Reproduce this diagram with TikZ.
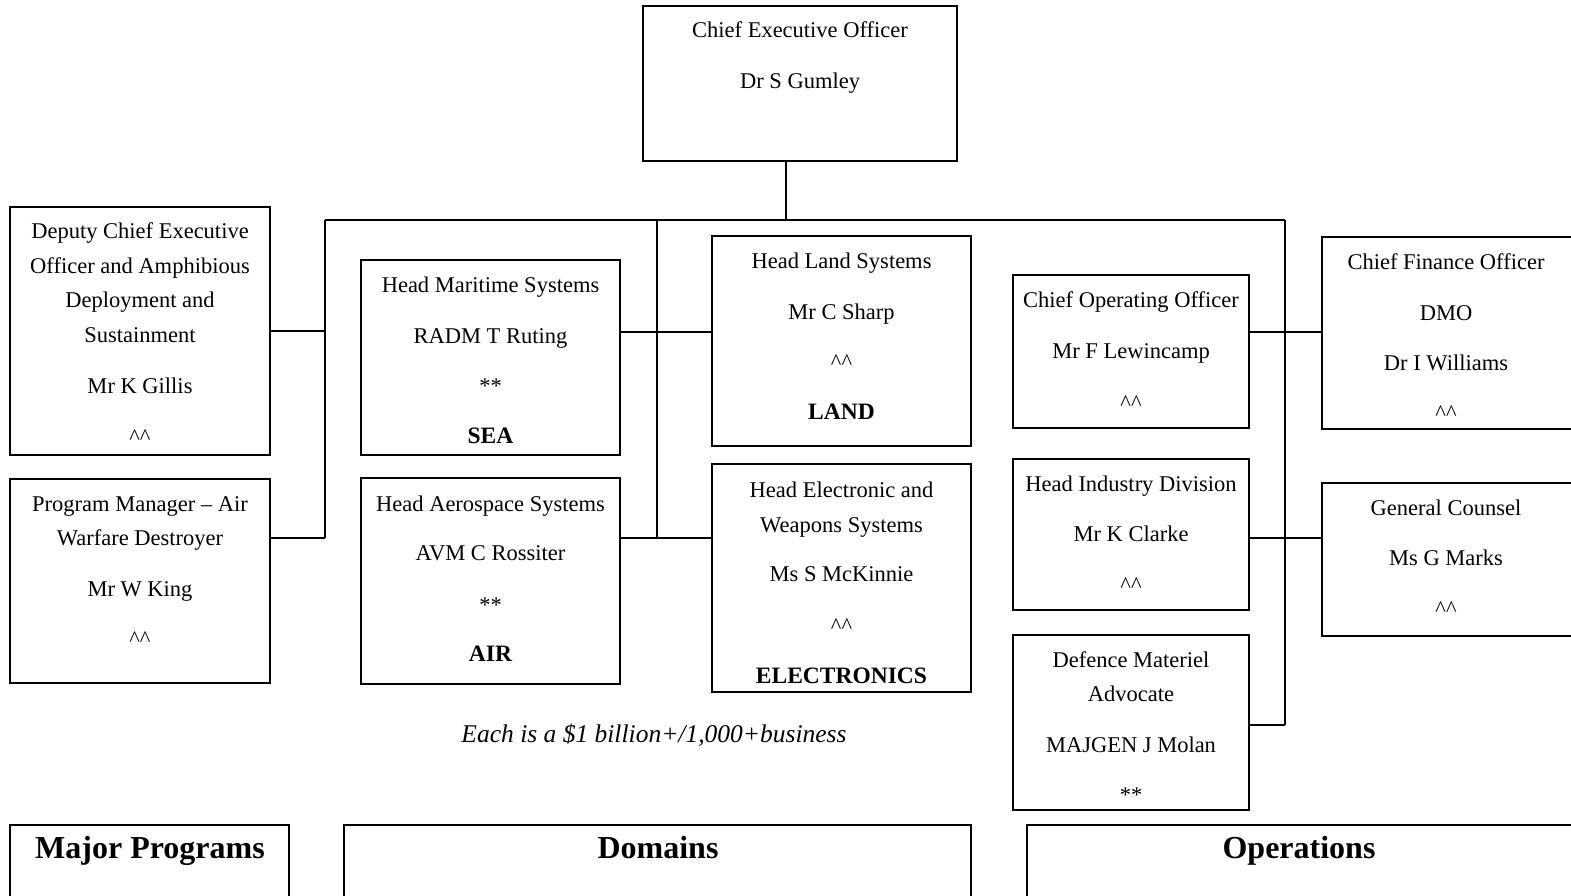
\documentclass[tikz,border=0pt]{standalone}
\usepackage{fontspec}
\setmainfont{Liberation Serif}
\newcommand{\cc}{\^{}\^{}}
\tikzset{
  box/.style={draw, line width=2pt, inner sep=0pt, outer sep=0pt, anchor=north west},
  txt/.style={inner sep=0pt, anchor=base, font=\fontsize{22.5}{26}\selectfont},
  bld/.style={txt, font=\fontsize{23.5}{27}\selectfont\bfseries},
  hd/.style={inner sep=0pt, anchor=base, font=\fontsize{32}{36}\selectfont\bfseries},
  it/.style={txt, font=\fontsize{25.5}{29}\selectfont\itshape},
  conn/.style={line width=1.8pt}
}
\begin{document}
\begin{tikzpicture}[x=1pt,y=-1pt]
\useasboundingbox (0,0) rectangle (1571,896);
\clip (0,0) rectangle (1571,896);
% boxes
\node[box, minimum width=314pt, minimum height=155pt] (ceo) at (643,6) {};
\node[box, minimum width=260pt, minimum height=248pt] (dceo) at (10,207) {};
\node[box, minimum width=260pt, minimum height=204pt] (pm) at (10,479) {};
\node[box, minimum width=259pt, minimum height=195pt] (mar) at (361,260) {};
\node[box, minimum width=259pt, minimum height=206pt] (aero) at (361,478) {};
\node[box, minimum width=259pt, minimum height=210pt] (land) at (712,236) {};
\node[box, minimum width=259pt, minimum height=228pt] (elec) at (712,464) {};
\node[box, minimum width=236pt, minimum height=153pt] (coo) at (1013,275) {};
\node[box, minimum width=236pt, minimum height=151pt] (hid) at (1013,459) {};
\node[box, minimum width=236pt, minimum height=175pt] (dma) at (1013,635) {};
\node[box, minimum width=280pt, minimum height=192pt] (cfo) at (1322,237) {};
\node[box, minimum width=280pt, minimum height=153pt] (gc) at (1322,483) {};
\node[box, minimum width=279pt, minimum height=100pt] (mp) at (10,825) {};
\node[box, minimum width=627pt, minimum height=100pt] (dom) at (344,825) {};
\node[box, minimum width=580pt, minimum height=100pt] (ops) at (1027,825) {};
% texts
\node[txt] (t1) at (800,38) {Chief Executive Officer};
\node[txt] (t2) at (800,89) {Dr S Gumley};
\node[txt] (d1) at (140,238) {Deputy Chief Executive};
\node[txt] (d2) at (140,273) {Officer and Amphibious};
\node[txt] (d3) at (140,307) {Deployment and};
\node[txt] (d4) at (140,342) {Sustainment};
\node[txt] (d5) at (140,393) {Mr K Gillis};
\node[txt] (d6) at (140,444) {\cc};
\node[txt] (p1) at (140,511) {Program Manager \textendash{} Air};
\node[txt] (p2) at (140,545) {Warfare Destroyer};
\node[txt] (p3) at (140,596) {Mr W King};
\node[txt] (p4) at (140,646) {\cc};
\node[txt] (m1) at (490.5,292) {Head Maritime Systems};
\node[txt] (m2) at (490.5,343) {RADM T Ruting};
\node[txt] (m3) at (490.5,393) {**};
\node[bld] (m4) at (490.5,443) {SEA};
\node[txt] (a1) at (490.5,511) {Head Aerospace Systems};
\node[txt] (a2) at (490.5,560) {AVM C Rossiter};
\node[txt] (a3) at (490.5,612) {**};
\node[bld] (a4) at (490.5,661) {AIR};
\node[txt] (l1) at (841.5,268) {Head Land Systems};
\node[txt] (l2) at (841.5,319) {Mr C Sharp};
\node[txt] (l3) at (841.5,369) {\cc};
\node[bld] (l4) at (841.5,419) {LAND};
\node[txt] (e1) at (841.5,497) {Head Electronic and};
\node[txt] (e2) at (841.5,532) {Weapons Systems};
\node[txt] (e3) at (841.5,581) {Ms S McKinnie};
\node[txt] (e4) at (841.5,633) {\cc};
\node[bld] (e5) at (841.5,683) {ELECTRONICS};
\node[txt] (c1) at (1131,307) {Chief Operating Officer};
\node[txt] (c2) at (1131,358) {Mr F Lewincamp};
\node[txt] (c3) at (1131,410) {\cc};
\node[txt] (h1) at (1131,491) {Head Industry Division};
\node[txt] (h2) at (1131,541) {Mr K Clarke};
\node[txt] (h3) at (1131,592) {\cc};
\node[txt] (v1) at (1131,667) {Defence Materiel};
\node[txt] (v2) at (1131,701) {Advocate};
\node[txt] (v3) at (1131,752) {MAJGEN J Molan};
\node[txt] (v4) at (1131,802) {**};
\node[txt] (f1) at (1446,269) {Chief Finance Officer};
\node[txt] (f2) at (1446,320) {DMO};
\node[txt] (f3) at (1446,370) {Dr I Williams};
\node[txt] (f4) at (1446,420) {\cc};
\node[txt] (g1) at (1446,515) {General Counsel};
\node[txt] (g2) at (1446,565) {Ms G Marks};
\node[txt] (g3) at (1446,616) {\cc};
\node[it] (note) at (654,742) {Each is a \$1 billion+/1,000+business};
\node[hd] (h-mp) at (150,858) {Major Programs};
\node[hd] (h-dom) at (658,858) {Domains};
\node[hd] (h-ops) at (1299,858) {Operations};
% connector coordinates
\coordinate (ceoc) at (786,161);
\coordinate (busL) at (325,220);
\coordinate (busR) at (1285,220);
\coordinate (lvb) at (325,538);
\coordinate (mv) at (657,220);
\coordinate (mh) at (657,332);
\coordinate (mvb) at (657,538);
\coordinate (rh1) at (1285,332);
\coordinate (rh2) at (1285,538);
\coordinate (rvb) at (1285,725);
% connectors
\draw[conn] (ceoc |- ceo.south) -- (ceoc |- busL);
\draw[conn] (busL) -- (busR);
\draw[conn] (busL) -- (lvb);
\draw[conn] (dceo.east) -- (dceo.east -| busL);
\draw[conn] (lvb) -- (lvb -| pm.east);
\draw[conn] (mv) -- (mvb);
\draw[conn] (mh -| mar.east) -- (mh -| land.west);
\draw[conn] (mvb -| aero.east) -- (mvb -| elec.west);
\draw[conn] (busR) -- (rvb);
\draw[conn] (rh1 -| coo.east) -- (rh1 -| cfo.west);
\draw[conn] (rh2 -| hid.east) -- (rh2 -| gc.west);
\draw[conn] (rvb) -- (rvb -| dma.east);
\end{tikzpicture}
\end{document}
